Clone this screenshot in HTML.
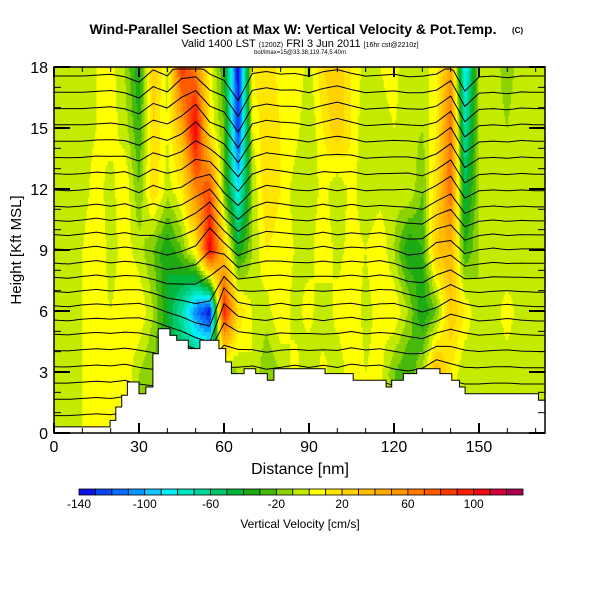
<!DOCTYPE html>
<html><head><meta charset="utf-8"><style>
body{margin:0;background:#fff;font-family:"Liberation Sans",sans-serif}
svg text{font-family:"Liberation Sans",sans-serif}
</style></head><body>
<svg id="chart" width="600" height="600" viewBox="0 0 600 600" xmlns="http://www.w3.org/2000/svg">
<rect width="600" height="600" fill="#fff"/>
<text x="293" y="34" text-anchor="middle" font-size="14" font-weight="bold">Wind-Parallel Section at Max W: Vertical Velocity &amp; Pot.Temp.</text>
<text x="512" y="33" font-size="8" font-weight="bold">(C)</text>
<text x="300" y="47" text-anchor="middle" font-size="11">Valid 1400 LST <tspan font-size="7">(1200Z)</tspan> FRI 3 Jun 2011 <tspan font-size="7">[16hr cst@2210z]</tspan></text>
<text x="300" y="54" text-anchor="middle" font-size="6">bot/lmax=15@33.38,119.74,5.40m</text>
<clipPath id="plotclip"><rect x="54" y="67" width="491" height="366"/></clipPath>
<g id="field"></g>
<g id="contours" clip-path="url(#plotclip)"></g>
<g id="terrain"></g>
<g id="axes"></g>
<g id="colorbar"></g>
<text x="300" y="474" text-anchor="middle" font-size="16">Distance [nm]</text>
<text transform="translate(21,250) rotate(-90)" text-anchor="middle" font-size="15">Height [Kft MSL]</text>
<text x="300" y="528" text-anchor="middle" font-size="12">Vertical Velocity [cm/s]</text>
</svg>
<script>
// ---- data ----
const gridX = [0,5,10,15,20,25,30,35,40,45,50,55,60,65,70,75,80,85,90,95,100,105,110,115,120,125,130,135,140,145,150,155,160,165,170,175];
const gridH = [0,3,6,9,12,15,18];
const w0  = [-5,-5,0,5,0,10,-10,-20,-30,-30,-30,-20,-10,-10,0,-10,-10,5,-10,5,-10,10,0,5,-10,-20,-10,30,10,-10,-10,-5,-5,-10,-10,-10];
const w3  = [-5,-5,0,5,0,10,-10,-20,-40,-40,-40,-30,-20,-10,0,-20,-10,5,-10,5,-10,10,0,5,-20,-30,-10,40,10,-10,-10,-5,-5,-10,-10,-10];
const w6  = [-5,-10,0,5,0,5,10,-10,-40,-70,-110,-140,100,20,0,-5,10,-5,5,-10,5,10,-5,5,10,-10,-40,-20,30,10,-10,-5,5,-5,-10,-10];
const w9  = [-5,-10,0,10,-5,5,-5,-20,-40,-20,10,110,30,-40,-10,10,5,0,-5,10,-5,5,0,10,-10,-40,-30,30,40,-30,-10,0,-10,-5,-5,-5];
const w12 = [-5,-10,-5,5,-5,10,-20,20,-5,10,60,80,-20,-90,-10,20,10,-5,-10,5,-10,5,-10,-5,-5,0,-20,20,70,-50,-10,-5,-10,-5,-10,-10];
const w15 = [-5,-5,-5,0,5,-5,-30,20,0,40,110,10,-20,-130,0,20,10,5,-10,10,30,10,-10,-5,0,-5,-10,10,70,-70,-10,-5,-10,0,-5,-5];
const w18 = [-5,-5,-5,0,5,-10,-40,30,-5,90,60,5,-30,-140,10,20,5,10,-5,20,30,10,-5,0,5,-10,-5,5,50,-90,-10,-5,-15,-5,-5,-5];
const terrainX = [0,19.8,21.8,23.9,25.9,30.0,32.4,34.9,36.8,40.9,43.3,47.4,51.5,58.2,60.6,62.6,67.1,71.2,75.3,77.6,95.7,105.6,117.2,119.2,123.3,128.0,136.2,140.4,143.1,145.1,171.0];
const terrainH = [0.3,0.62,1.28,1.86,2.51,1.93,2.26,3.90,5.13,4.80,4.56,4.15,4.56,4.15,3.49,2.92,3.16,2.92,2.59,3.16,2.92,2.59,2.26,2.59,2.92,3.16,2.92,2.59,2.26,1.93,1.61];
const thetaLevels = [0.9,1.7,2.5,3.3,4.1,4.9,5.6,6.3,7.0,7.7,8.4,9.1,9.8,10.5,11.2,12.0,12.8,13.6,14.4,15.2,16.0,16.8,17.6];
const xTicks = [0,30,60,90,120,150];
const yTicks = [0,3,6,9,12,15,18];
const cbTicks = [-140,-100,-60,-20,20,60,100];
const colors = ["#0a14e6","#0a46f0","#0a6efa","#0a96ff","#14c8ff","#00f0f5","#00e6be","#00d796","#00c86e","#00b43c","#1eaa14","#46b90a","#8cd200","#c3eb00","#ffff00","#ffe600","#ffd200","#ffbe00","#ffaa00","#ff9600","#ff7800","#ff5a00","#ff3c00","#ff1e00","#f00a14","#d2003c","#aa0050"];
const W = [w0,w3,w6,w9,w12,w15,w18];
// ---- axes ----
const L=54,R=545,T=67,B=433,XMAX=173.3,YMAX=18;
const sx=v=>L+(v/XMAX)*(R-L);
const sy=v=>B-(v/YMAX)*(B-T);
const NS="http://www.w3.org/2000/svg";
function mk(tag,attrs,parent){const e=document.createElementNS(NS,tag);for(const k in attrs)e.setAttribute(k,attrs[k]);parent.appendChild(e);return e;}
function wAt(x,h){
  let i=0;while(i<gridX.length-2&&x>gridX[i+1])i++;
  let j=0;while(j<gridH.length-2&&h>gridH[j+1])j++;
  const fx=Math.max(0,Math.min(1,(x-gridX[i])/(gridX[i+1]-gridX[i])));
  const fy=Math.max(0,Math.min(1,(h-gridH[j])/(gridH[j+1]-gridH[j])));
  const a=W[j][i]*(1-fx)+W[j][i+1]*fx, b=W[j+1][i]*(1-fx)+W[j+1][i+1]*fx;
  return a*(1-fy)+b*fy;
}
function colIdx(v){return Math.max(0,Math.min(26,Math.floor((v+140)/10)));}
// field
const field=document.getElementById('field');
const NX=Math.ceil(XMAX/0.5), NY=90, dx=XMAX/NX, dh=YMAX/NY;
for(let j=0;j<NY;j++){
  const h0=j*dh,h1=(j+1)*dh;
  let startI=0,cur=colIdx(wAt(dx/2,h0+dh/2));
  for(let i=1;i<=NX;i++){
    const c=i===NX?-1:colIdx(wAt(i*dx+dx/2,h0+dh/2));
    if(c!==cur){
      const r=mk('rect',{x:sx(startI*dx),y:sy(h1),width:sx(i*dx)-sx(startI*dx)+0.5,height:sy(h0)-sy(h1)+0.5,fill:colors[cur]},field);
      
      
      startI=i;cur=c;
    }
  }
}
// contours
const cg=document.getElementById('contours');
thetaLevels.forEach((lv,k)=>{
  let d='';
  for(let x=0;x<=XMAX+0.5;x+=1){
    const h=lv+0.009*wAt(x,lv);
    d+=(x===0?'M':'L')+sx(x).toFixed(1)+','+sy(Math.min(h,17.9)).toFixed(1);
  }
  const p=mk('path',{d:d,fill:'none',stroke:'#000','stroke-width':1},cg);
  
  
});
// terrain
const tg=document.getElementById('terrain');
let td='M'+sx(0)+','+sy(0);
terrainX.forEach((x,i)=>{
  const xe=i<terrainX.length-1?terrainX[i+1]:XMAX;
  td+='L'+sx(x).toFixed(1)+','+sy(terrainH[i]).toFixed(1)+'L'+sx(xe).toFixed(1)+','+sy(terrainH[i]).toFixed(1);
});
td+='L'+sx(XMAX)+','+sy(0)+'Z';
const tp=mk('path',{d:td,fill:'#fff',stroke:'#000','stroke-width':1},tg);


// axes
const ag=document.getElementById('axes');
const fr=mk('rect',{x:L,y:T,width:R-L,height:B-T,fill:'none',stroke:'#000','stroke-width':1.5},ag);


for(let v=0;v<=18;v++){
  const maj=v%3===0;
  mk('line',{x1:L,x2:L+(maj?16:7),y1:sy(v),y2:sy(v),stroke:'#000','stroke-width':maj?2:1},ag);
  mk('line',{x1:R,x2:R-(maj?16:7),y1:sy(v),y2:sy(v),stroke:'#000','stroke-width':maj?2:1},ag);
}
for(let v=0;v<=170;v+=10){
  const maj=v%30===0;
  mk('line',{x1:sx(v),x2:sx(v),y1:B,y2:B-(maj?10:5),stroke:'#000','stroke-width':maj?2:1},ag);
  mk('line',{x1:sx(v),x2:sx(v),y1:T,y2:T+(maj?10:5),stroke:'#000','stroke-width':maj?2:1},ag);
}
yTicks.forEach(v=>{
  const t=mk('text',{x:L-6,y:sy(v)+6,'text-anchor':'end','font-size':16},ag);t.textContent=v;
  
  
});
xTicks.forEach(v=>{
  const t=mk('text',{x:sx(v),y:B+19,'text-anchor':'middle','font-size':16},ag);t.textContent=v;
  
  
});
// colorbar
const cb=document.getElementById('colorbar');
const cbL=79,cbW=444/27;
colors.forEach((c,i)=>{
  const r=mk('rect',{x:cbL+i*cbW,y:489,width:cbW,height:6,fill:c,stroke:'#000','stroke-width':0.8},cb);
  
  
});
cbTicks.forEach(v=>{
  const t=mk('text',{x:cbL+(v+140)/10*cbW,y:508,'text-anchor':'middle','font-size':12},cb);t.textContent=v;
  
  
});
</script>
</body></html>
